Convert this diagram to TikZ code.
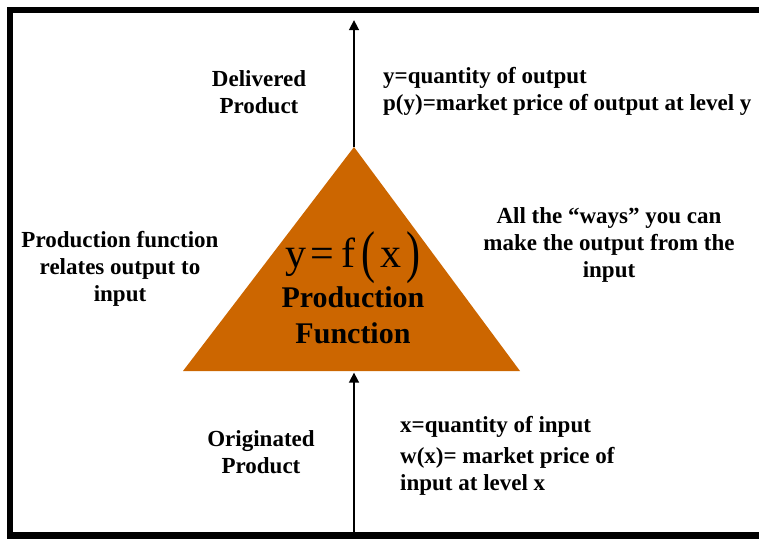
\documentclass[tikz,border=0pt]{standalone}
\usepackage{fontspec}
\usepackage{graphicx}
\setmainfont{Liberation Serif}
\usetikzlibrary{arrows.meta}
\definecolor{prodorange}{RGB}{204,102,0}
\newcommand{\tallparen}[1]{\raisebox{-4pt}{\scalebox{1}[1.37]{#1}}}
\begin{document}
\begin{tikzpicture}[x=1pt,y=-1pt,
  lbl/.style={font=\bfseries\fontsize{23}{27}\selectfont, align=center, inner sep=0pt, anchor=base},
  lblL/.style={lbl, align=left, anchor=base west},
  frameline/.style={line width=6.5pt, line join=miter},
  flow/.style={line width=2.6pt, -{Triangle[length=10pt,width=9.5pt]}}]
\useasboundingbox (0,0) rectangle (759,539);

% open frame: top, left and bottom edges
\draw[frameline] (759,10) -- (10,10) -- (10,535.5) -- (759,535.5);

% key points of the production triangle
\coordinate (apex) at (354,147);
\coordinate (baseL) at (183,371);
\coordinate (baseR) at (520,371);
\coordinate (outtip) at (354,20);
\coordinate (inroot) at (354,533);
\coordinate (intip) at (354,372.5);

% flows in and out
\draw[flow] (apex) -- (outtip);
\draw[flow] (inroot) -- (intip);

% production triangle
\fill[prodorange] (apex) -- (baseR) -- (baseL) -- cycle;

% function inside the triangle (base anchor sits on the last line)
\node[inner sep=0pt, anchor=base, font=\fontsize{42}{42}\selectfont] (pf) at (353,267)
  {y\hspace{4pt}=\hspace{8pt}f\hspace{6pt}\tallparen{(}\hspace{5pt}x\hspace{5pt}\tallparen{)}};
\node[inner sep=0pt, anchor=base, align=center, font=\bfseries\fontsize{30}{36}\selectfont] (pfname) at (353,343)
  {Production\\Function};

% labels
\node[lbl] (deliv) at (259,113) {Delivered\\Product};
\node[lblL] (outdef) at (383,110) {y=quantity of output\\p(y)=market price of output at level y};
\node[lbl] (ways) at (609,277) {All the “ways” you can\\make the output from the\\input};
\node[lbl] (relates) at (120,301) {Production function\\relates output to\\input};
\node[lbl] (orig) at (261,473) {Originated\\Product};
\node[lblL] (indef) at (400,490) {x=quantity of input\\[4pt]w(x)= market price of\\input at level x};
\end{tikzpicture}
\end{document}
